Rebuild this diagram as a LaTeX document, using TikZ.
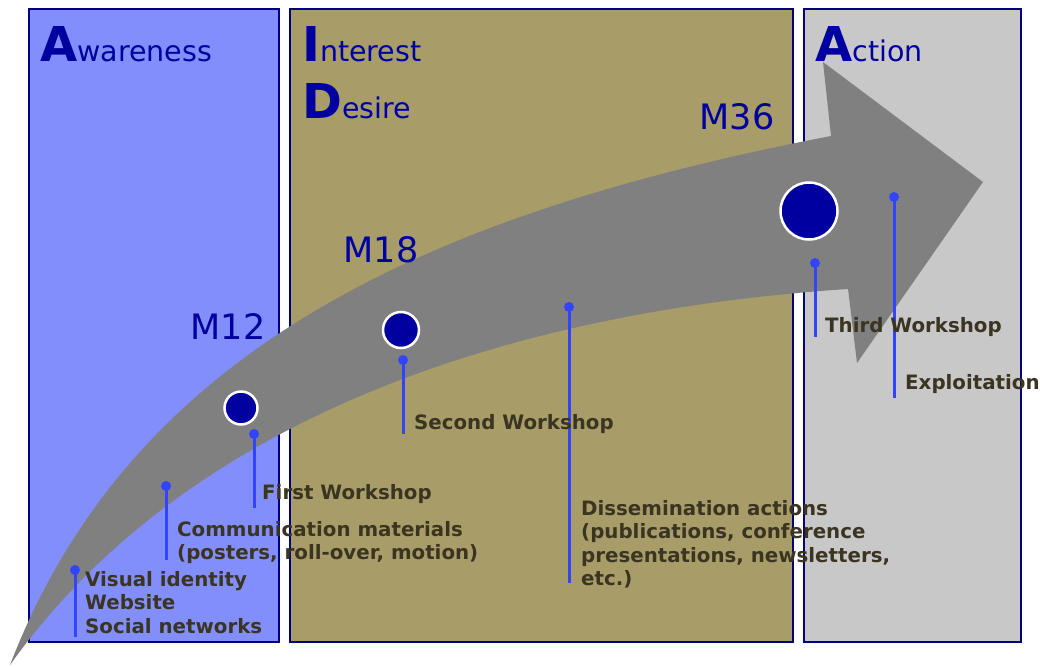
\documentclass[tikz,border=0pt]{standalone}
\usepackage{fontspec}
\setmainfont{DejaVu Sans}
\definecolor{awfill}{RGB}{130,142,252}
\definecolor{idfill}{RGB}{168,157,104}
\definecolor{acfill}{RGB}{200,200,200}
\definecolor{navy}{RGB}{0,0,128}
\definecolor{arrowgray}{RGB}{128,128,128}
\definecolor{dotblue}{RGB}{0,0,160}
\definecolor{titleblue}{RGB}{0,0,160}
\definecolor{labtext}{RGB}{58,52,33}
\definecolor{pinblue}{RGB}{51,68,255}
\begin{document}
\begin{tikzpicture}[x=1pt,y=-1pt,
  stage/.style={draw=navy, line width=2pt, anchor=north west, inner sep=0pt},
  mile/.style={circle, fill=dotblue, draw=white, line width=2.5pt, inner sep=0pt},
  mlabel/.style={text=titleblue, font=\fontsize{35}{35}\selectfont, inner sep=0pt},
  stagetitle/.style={text=titleblue, font=\fontsize{28.5}{28.5}\selectfont, inner sep=0pt, anchor=base west},
  lab/.style={text=labtext, font=\bfseries\fontsize{19.8}{23.5}\selectfont, align=left, anchor=north west, inner sep=0pt},
  pin/.style={draw=pinblue, line width=3pt},
  pindot/.style={circle, fill=pinblue, inner sep=0pt, minimum size=10pt}]
\useasboundingbox (0,0) rectangle (1040,666);
\newcommand{\BigInit}[1]{{\bfseries\fontsize{48}{48}\selectfont #1}}
% stages
\node[stage, fill=awfill, minimum width=250pt, minimum height=633pt] (aw) at (28,8) {};
\node[stage, fill=idfill, minimum width=503pt, minimum height=633pt] (id) at (289,8) {};
\node[stage, fill=acfill, minimum width=217pt, minimum height=633pt] (ac) at (803,8) {};
% arrow
\fill[arrowgray] (10,665) .. controls (130,353) and (420,215) .. (831,136)
  -- (823,62) -- (983,182) -- (857,363) -- (848,289)
  .. controls (484,313) and (176.5,431) .. (10,665) -- cycle;
% milestones
\node[mile, minimum size=33pt] (c12) at (241,408) {};
\node[mile, minimum size=36pt] (c18) at (401,330) {};
\node[mile, minimum size=57pt] (c36) at (809,211) {};
\node[mlabel] (m12) at (228,327) {M12};
\node[mlabel] (m18) at (381,250) {M18};
\node[mlabel] (m36) at (737,117) {M36};
% pins
\node[pindot] (p1) at (75,570) {};   \coordinate (p1e) at (75,637);
\node[pindot] (p2) at (166,486) {};  \coordinate (p2e) at (166,560);
\node[pindot] (p3) at (254,434) {};  \coordinate (p3e) at (254,508);
\node[pindot] (p4) at (403,360) {};  \coordinate (p4e) at (403,434);
\node[pindot] (p5) at (569,307) {};  \coordinate (p5e) at (569,583);
\node[pindot] (p6) at (815,263) {};  \coordinate (p6e) at (815,337);
\node[pindot] (p7) at (894,197) {};  \coordinate (p7e) at (894,398);
\foreach \p in {1,...,7} \draw[pin] (p\p.center) -- (p\p e);
% labels
\node[lab] (l1) at (85,571) {Visual identity\\Website\\Social networks};
\node[lab] (l2) at (177,521) {Communication materials\\(posters, roll-over, motion)};
\node[lab] (l3) at (262,484) {First Workshop};
\node[lab] (l4) at (414,414) {Second Workshop};
\node[lab] (l5) at (581,500) {Dissemination actions\\(publications, conference\\presentations, newsletters,\\etc.)};
\node[lab] (l6) at (825,317) {Third Workshop};
\node[lab] (l7) at (905,374) {Exploitation};
% titles
\node[stagetitle] (t1) at (40,62) {\BigInit{A}wareness};
\node[stagetitle] (t2) at (302,62) {\BigInit{I}nterest};
\node[stagetitle] (t3) at (302,118) {\BigInit{D}esire};
\node[stagetitle] (t4) at (815,62) {\BigInit{A}ction};
\end{tikzpicture}
\end{document}
